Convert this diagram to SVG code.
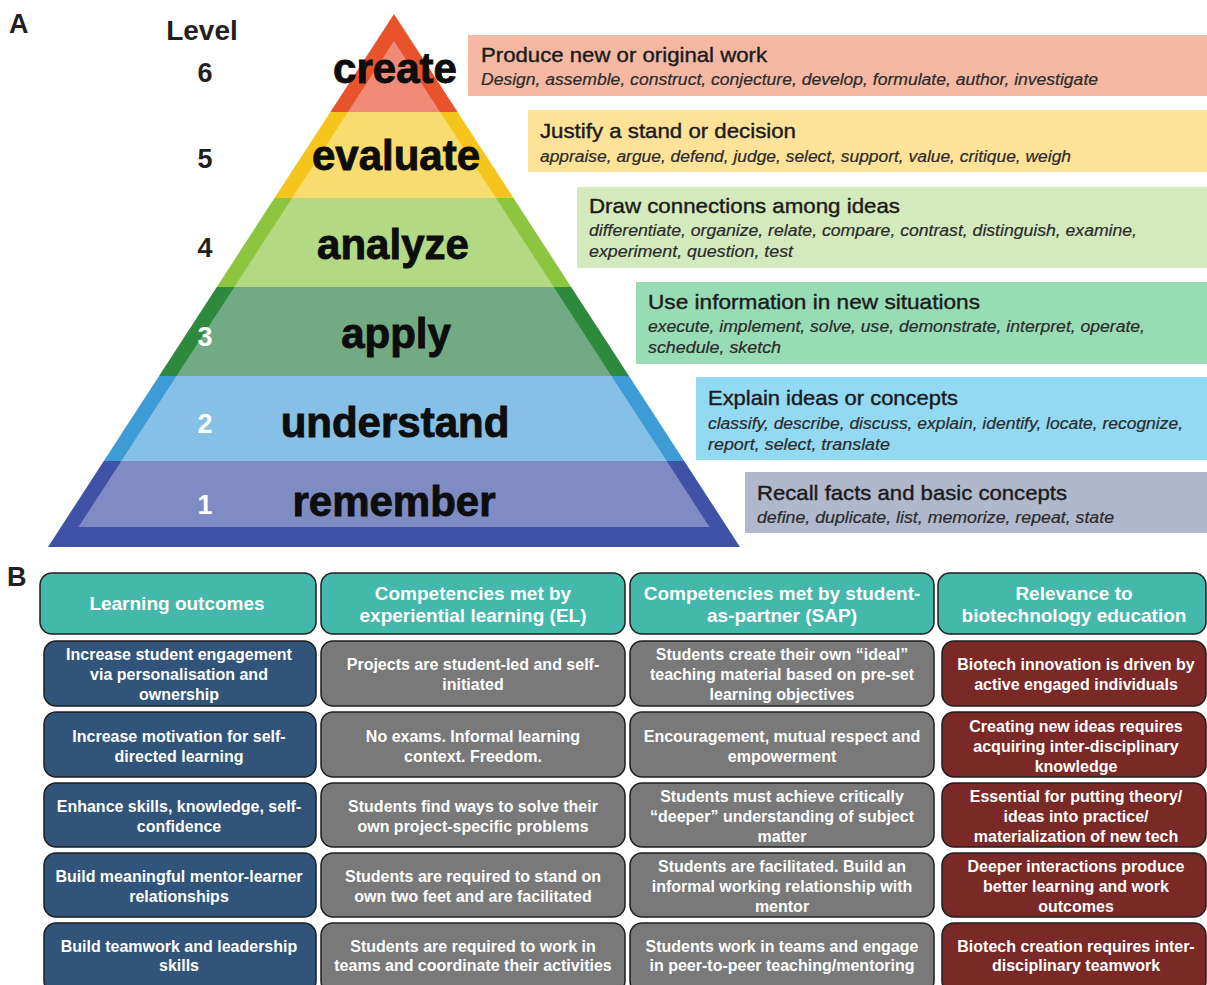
<svg xmlns="http://www.w3.org/2000/svg" width="1207" height="985" viewBox="0 0 1207 985">
  <style>
    .panel { font: bold 27px 'Liberation Sans', Arial, sans-serif; fill: #231f20; }
    .lvl { font: bold 28px 'Liberation Sans', Arial, sans-serif; fill: #231f20; text-anchor: middle; }
    .num { font: bold 27px 'Liberation Sans', Arial, sans-serif; text-anchor: middle; }
    .dk { fill: #231f20; }
    .wt { fill: #ffffff; }
    .word { font: bold 42px 'Liberation Sans', Arial, sans-serif; fill: #0d0d0d; stroke: #0d0d0d; stroke-width: 0.9; text-anchor: middle; }
    .ttl { font: 21px 'Liberation Sans', Arial, sans-serif; fill: #1b1b1b; stroke: #1b1b1b; stroke-width: 0.4; }
    .sub { font: italic 16px 'Liberation Sans', Arial, sans-serif; fill: #2b2b2b; stroke: #2b2b2b; stroke-width: 0.2; }
    .hd { font: bold 19px 'Liberation Sans', Arial, sans-serif; fill: #ffffff; text-anchor: middle; }
    .cell { font: bold 16px 'Liberation Sans', Arial, sans-serif; fill: #ffffff; text-anchor: middle; }
    .box { stroke: #1e1e1e; stroke-width: 1.5; }
    .head { fill: #43b8ab; }
    .out { fill: #31547a; }
    .comp { fill: #797979; }
    .rel { fill: #7a2926; }
  </style>

  <rect width="1207" height="985" fill="#ffffff"/>

  <!-- Panel A: pyramid -->
  <text class="panel" x="9" y="33">A</text>
  <text class="lvl" x="202" y="40">Level</text>
  <text class="num dk" x="205" y="82">6</text>
  <text class="num dk" x="205" y="168">5</text>
  <text class="num dk" x="205" y="257">4</text>

  <g id="pyramid">
    <g id="band-create">
      <polygon points="394,14 457.6,112 330.4,112" fill="#e9532b"/>
      <polygon points="394,41 440.1,112 347.9,112" fill="#ef8b77"/>
    </g>
    <g id="band-evaluate">
      <polygon points="330.4,112 457.6,112 513.5,198 274.5,198" fill="#f6c51d"/>
      <polygon points="347.9,112 440.1,112 495.9,198 292.1,198" fill="#f9dc6f"/>
    </g>
    <g id="band-analyze">
      <polygon points="274.5,198 513.5,198 571.2,287 216.8,287" fill="#8cc63f"/>
      <polygon points="292.1,198 495.9,198 553.7,287 234.3,287" fill="#b3d985"/>
    </g>
    <g id="band-apply">
      <polygon points="216.8,287 571.2,287 629,376 159,376" fill="#2d8a3c"/>
      <polygon points="234.3,287 553.7,287 611.5,376 176.5,376" fill="#72aa83"/>
    </g>
    <g id="band-understand">
      <polygon points="159,376 629,376 684.2,461 103.8,461" fill="#3d9bd6"/>
      <polygon points="176.5,376 611.5,376 666.7,461 121.3,461" fill="#86c0e7"/>
    </g>
    <g id="band-remember">
      <polygon points="103.8,461 684.2,461 740,547 48,547" fill="#3f52a6"/>
      <polygon points="121.3,461 666.7,461 709.5,527 78.5,527" fill="#7f8bc3"/>
    </g>
    <text class="word" x="395" y="83">create</text>
    <text class="word" x="396" y="170">evaluate</text>
    <text class="word" x="393" y="259">analyze</text>
    <text class="word" x="396" y="348">apply</text>
    <text class="word" x="395" y="437">understand</text>
    <text class="word" x="394" y="516">remember</text>
  </g>

  <text class="num wt" x="205" y="346">3</text>
  <text class="num wt" x="205" y="433">2</text>
  <text class="num wt" x="205" y="514">1</text>

  <!-- Descriptions beside each level -->
  <g id="desc-create">
    <rect x="468" y="35" width="739" height="61" fill="#f5b9a3"/>
    <text class="ttl" x="481" y="62" textLength="286" lengthAdjust="spacingAndGlyphs">Produce new or original work</text>
    <text class="sub" x="481" y="85" textLength="617" lengthAdjust="spacingAndGlyphs">Design, assemble, construct, conjecture, develop, formulate, author, investigate</text>
  </g>
  <g id="desc-evaluate">
    <rect x="528" y="110" width="679" height="62" fill="#fde298"/>
    <text class="ttl" x="540" y="138" textLength="256" lengthAdjust="spacingAndGlyphs">Justify a stand or decision</text>
    <text class="sub" x="540" y="162" textLength="531" lengthAdjust="spacingAndGlyphs">appraise, argue, defend, judge, select, support, value, critique, weigh</text>
  </g>
  <g id="desc-analyze">
    <rect x="577" y="187" width="630" height="81" fill="#d4eabc"/>
    <text class="ttl" x="589" y="213" textLength="311" lengthAdjust="spacingAndGlyphs">Draw connections among ideas</text>
    <text class="sub" x="589" y="236" textLength="548" lengthAdjust="spacingAndGlyphs">differentiate, organize, relate, compare, contrast, distinguish, examine,</text>
    <text class="sub" x="589" y="257" textLength="204" lengthAdjust="spacingAndGlyphs">experiment, question, test</text>
  </g>
  <g id="desc-apply">
    <rect x="636" y="282" width="571" height="82" fill="#98dcb6"/>
    <text class="ttl" x="648" y="309" textLength="332" lengthAdjust="spacingAndGlyphs">Use information in new situations</text>
    <text class="sub" x="648" y="332" textLength="497" lengthAdjust="spacingAndGlyphs">execute, implement, solve, use, demonstrate, interpret, operate,</text>
    <text class="sub" x="648" y="353" textLength="133" lengthAdjust="spacingAndGlyphs">schedule, sketch</text>
  </g>
  <g id="desc-understand">
    <rect x="696" y="377" width="511" height="83" fill="#93d9f4"/>
    <text class="ttl" x="708" y="405" textLength="250" lengthAdjust="spacingAndGlyphs">Explain ideas or concepts</text>
    <text class="sub" x="708" y="429" textLength="475" lengthAdjust="spacingAndGlyphs">classify, describe, discuss, explain, identify, locate, recognize,</text>
    <text class="sub" x="708" y="450" textLength="182" lengthAdjust="spacingAndGlyphs">report, select, translate</text>
  </g>
  <g id="desc-remember">
    <rect x="745" y="472" width="462" height="61" fill="#b1b8cb"/>
    <text class="ttl" x="757" y="500" textLength="310" lengthAdjust="spacingAndGlyphs">Recall facts and basic concepts</text>
    <text class="sub" x="757" y="523" textLength="357" lengthAdjust="spacingAndGlyphs">define, duplicate, list, memorize, repeat, state</text>
  </g>

  <!-- Panel B: table -->
  <text class="panel" x="7" y="586">B</text>

  <g id="header">
    <rect class="box head" x="40" y="573" width="276" height="61" rx="12"/>
    <rect class="box head" x="321" y="573" width="304" height="61" rx="12"/>
    <rect class="box head" x="630" y="573" width="304" height="61" rx="12"/>
    <rect class="box head" x="938" y="573" width="268" height="61" rx="12"/>
    <text class="hd" x="177" y="610">Learning outcomes</text>
    <text class="hd" x="473" y="600">Competencies met by</text>
    <text class="hd" x="473" y="622">experiential learning (EL)</text>
    <text class="hd" x="782" y="600">Competencies met by student-</text>
    <text class="hd" x="782" y="622">as-partner (SAP)</text>
    <text class="hd" x="1074" y="600">Relevance to</text>
    <text class="hd" x="1074" y="622">biotechnology education</text>
  </g>

  <g id="row1">
    <rect class="box out" x="44" y="641" width="272" height="65" rx="12"/>
    <rect class="box comp" x="321" y="641" width="304" height="65" rx="12"/>
    <rect class="box comp" x="630" y="641" width="304" height="65" rx="12"/>
    <rect class="box rel" x="942" y="641" width="264" height="65" rx="12"/>
    <text class="cell" x="179" y="660">Increase student engagement</text>
    <text class="cell" x="179" y="680">via personalisation and</text>
    <text class="cell" x="179" y="700">ownership</text>
    <text class="cell" x="473" y="670">Projects are student-led and self-</text>
    <text class="cell" x="473" y="690">initiated</text>
    <text class="cell" x="782" y="660">Students create their own “ideal”</text>
    <text class="cell" x="782" y="680">teaching material based on pre-set</text>
    <text class="cell" x="782" y="700">learning objectives</text>
    <text class="cell" x="1076" y="670">Biotech innovation is driven by</text>
    <text class="cell" x="1076" y="690">active engaged individuals</text>
  </g>

  <g id="row2">
    <rect class="box out" x="44" y="712" width="272" height="65" rx="12"/>
    <rect class="box comp" x="321" y="712" width="304" height="65" rx="12"/>
    <rect class="box comp" x="630" y="712" width="304" height="65" rx="12"/>
    <rect class="box rel" x="942" y="712" width="264" height="65" rx="12"/>
    <text class="cell" x="179" y="742">Increase motivation for self-</text>
    <text class="cell" x="179" y="762">directed learning</text>
    <text class="cell" x="473" y="742">No exams. Informal learning</text>
    <text class="cell" x="473" y="762">context. Freedom.</text>
    <text class="cell" x="782" y="742">Encouragement, mutual respect and</text>
    <text class="cell" x="782" y="762">empowerment</text>
    <text class="cell" x="1076" y="732">Creating new ideas requires</text>
    <text class="cell" x="1076" y="752">acquiring inter-disciplinary</text>
    <text class="cell" x="1076" y="772">knowledge</text>
  </g>

  <g id="row3">
    <rect class="box out" x="44" y="783" width="272" height="64" rx="12"/>
    <rect class="box comp" x="321" y="783" width="304" height="64" rx="12"/>
    <rect class="box comp" x="630" y="783" width="304" height="64" rx="12"/>
    <rect class="box rel" x="942" y="783" width="264" height="64" rx="12"/>
    <text class="cell" x="179" y="812">Enhance skills, knowledge, self-</text>
    <text class="cell" x="179" y="832">confidence</text>
    <text class="cell" x="473" y="812">Students find ways to solve their</text>
    <text class="cell" x="473" y="832">own project-specific problems</text>
    <text class="cell" x="782" y="802">Students must achieve critically</text>
    <text class="cell" x="782" y="822">“deeper” understanding of subject</text>
    <text class="cell" x="782" y="842">matter</text>
    <text class="cell" x="1076" y="802">Essential for putting theory/</text>
    <text class="cell" x="1076" y="822">ideas into practice/</text>
    <text class="cell" x="1076" y="842">materialization of new tech</text>
  </g>

  <g id="row4">
    <rect class="box out" x="44" y="853" width="272" height="64" rx="12"/>
    <rect class="box comp" x="321" y="853" width="304" height="64" rx="12"/>
    <rect class="box comp" x="630" y="853" width="304" height="64" rx="12"/>
    <rect class="box rel" x="942" y="853" width="264" height="64" rx="12"/>
    <text class="cell" x="179" y="882">Build meaningful mentor-learner</text>
    <text class="cell" x="179" y="902">relationships</text>
    <text class="cell" x="473" y="882">Students are required to stand on</text>
    <text class="cell" x="473" y="902">own two feet and are facilitated</text>
    <text class="cell" x="782" y="872">Students are facilitated. Build an</text>
    <text class="cell" x="782" y="892">informal working relationship with</text>
    <text class="cell" x="782" y="912">mentor</text>
    <text class="cell" x="1076" y="872">Deeper interactions produce</text>
    <text class="cell" x="1076" y="892">better learning and work</text>
    <text class="cell" x="1076" y="912">outcomes</text>
  </g>

  <g id="row5">
    <rect class="box out" x="44" y="923" width="272" height="70" rx="12"/>
    <rect class="box comp" x="321" y="923" width="304" height="70" rx="12"/>
    <rect class="box comp" x="630" y="923" width="304" height="70" rx="12"/>
    <rect class="box rel" x="942" y="923" width="264" height="70" rx="12"/>
    <text class="cell" x="179" y="952">Build teamwork and leadership</text>
    <text class="cell" x="179" y="971">skills</text>
    <text class="cell" x="473" y="952">Students are required to work in</text>
    <text class="cell" x="473" y="971">teams and coordinate their activities</text>
    <text class="cell" x="782" y="952">Students work in teams and engage</text>
    <text class="cell" x="782" y="971">in peer-to-peer teaching/mentoring</text>
    <text class="cell" x="1076" y="952">Biotech creation requires inter-</text>
    <text class="cell" x="1076" y="971">disciplinary teamwork</text>
  </g>
</svg>
